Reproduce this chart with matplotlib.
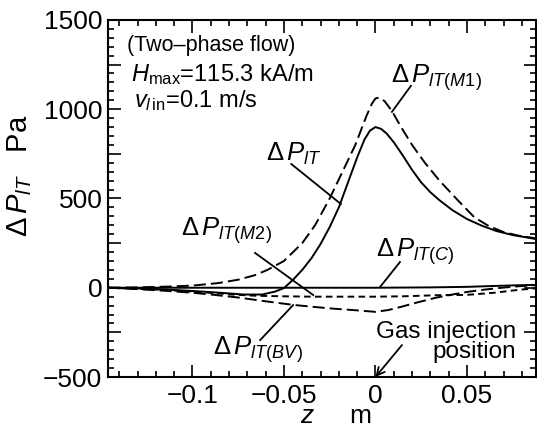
import matplotlib
matplotlib.use("Agg")
import matplotlib.pyplot as plt
from matplotlib.ticker import MultipleLocator, FuncFormatter

plt.rcParams['font.family'] = ['Liberation Sans', 'DejaVu Sans']
plt.rcParams['mathtext.fontset'] = 'custom'
plt.rcParams['mathtext.rm'] = 'Liberation Sans'
plt.rcParams['mathtext.it'] = 'Liberation Sans:italic'
plt.rcParams['mathtext.bf'] = 'Liberation Sans:bold'
plt.rcParams['axes.unicode_minus'] = True

# ---- data (z in m, pressure in Pa) ----
z_total = [-0.146, -0.13, -0.115, -0.1, -0.085, -0.072, -0.062, -0.055, -0.05, -0.045, -0.04,
           -0.035, -0.03, -0.025, -0.02, -0.015, -0.01, -0.006, -0.003, 0.0, 0.003, 0.006,
           0.01, 0.015, 0.02, 0.025, 0.03, 0.035, 0.042, 0.05, 0.058, 0.066, 0.075, 0.082, 0.088]
p_total = [0, -4, -10, -18, -28, -38, -38, -22, -2, 45, 100,
           165, 245, 340, 450, 590, 730, 830, 880, 900, 890, 865,
           815, 740, 660, 590, 535, 490, 435, 385, 348, 318, 295, 283, 272]

z_m1 = [-0.146, -0.13, -0.115, -0.1, -0.086, -0.075, -0.066, -0.059, -0.05, -0.04, -0.033,
        -0.025, -0.018, -0.011, -0.005, -0.002, 0.0, 0.002, 0.005,
        0.009, 0.014, 0.02, 0.027, 0.035, 0.045, 0.054, 0.062, 0.07, 0.078, 0.088]
p_m1 = [0, 2, 6, 12, 26, 45, 70, 100, 150, 250, 350,
        500, 650, 800, 960, 1030, 1060, 1065, 1045,
        990, 900, 800, 700, 600, 490, 395, 345, 312, 292, 276]

z_bv = [-0.146, -0.13, -0.115, -0.1, -0.088, -0.074, -0.06, -0.045, -0.033, -0.022, -0.011,
        0.0, 0.007, 0.014, 0.023, 0.033, 0.042, 0.051, 0.06, 0.069, 0.078, 0.088]
p_bv = [0, -8, -17, -28, -40, -56, -76, -96, -108, -118, -126,
        -135, -125, -107, -82, -56, -38, -22, -10, 0, 8, 15]

z_m2 = [-0.146, -0.13, -0.115, -0.1, -0.088, -0.077, -0.065, -0.05, -0.034, -0.015, 0.0,
        0.015, 0.033, 0.05, 0.065, 0.078, 0.088]
p_m2 = [0, -6, -12, -22, -30, -39, -45, -48, -50, -50, -50,
        -48, -42, -40, -28, -12, -3]

z_c = [-0.146, -0.1, -0.05, 0.0, 0.03, 0.05, 0.065, 0.078, 0.088]
p_c = [0, 0, 0, 0, 2, 5, 10, 14, 16]

xticks = [-0.1, -0.05, 0, 0.05]
xtick_labels = ['\u22120.1', '\u22120.05', '0', '0.05']
yticks = [-500, 0, 500, 1000, 1500]

fig = plt.figure(figsize=(5.37, 4.33), dpi=100)
ax = fig.add_axes([0.201, 0.1293, 0.797, 0.8247])

lw = 1.4
ax.plot(z_total, p_total, color='black', lw=lw)
ax.plot(z_m1, p_m1, color='black', lw=lw, dashes=(6.2, 2.6))
ax.plot(z_bv, p_bv, color='black', lw=lw, dashes=(6.2, 2.6))
ax.plot(z_m2, p_m2, color='black', lw=lw, dashes=(3.4, 2.2))
ax.plot(z_c, p_c, color='black', lw=lw)

ax.set_xlim(-0.1462, 0.0877)
ax.set_ylim(-500, 1500)

ax.set_xticks(xticks)
ax.set_xticklabels(xtick_labels)
ax.xaxis.set_minor_locator(MultipleLocator(0.01))
ax.yaxis.set_major_locator(MultipleLocator(250))
ax.yaxis.set_major_formatter(FuncFormatter(
    lambda v, p: (f'{int(round(v))}'.replace('-', '\u2212') if round(v) in yticks else '')))
ax.yaxis.set_minor_locator(MultipleLocator(50))

ax.tick_params(which='both', direction='in', top=True, right=True, width=1.2, labelsize=19)
ax.tick_params(axis='x', pad=5)
ax.tick_params(axis='y', pad=4)
ax.tick_params(which='major', length=9)
ax.tick_params(which='minor', length=4)
for s in ax.spines.values():
    s.set_linewidth(1.5)

# text block
ax.text(0.044, 0.927, '(Two\u2013phase flow)', transform=ax.transAxes, fontsize=15.5, va='center', ha='left')
ax.text(0.055, 0.846, r'$\mathit{H}_{\mathrm{max}}$=115.3 kA/m', transform=ax.transAxes, fontsize=17, va='center', ha='left')
ax.text(0.062, 0.773, r'$\mathit{v}_{\mathit{l}\,\mathrm{in}}$=0.1 m/s', transform=ax.transAxes, fontsize=17, va='center', ha='left')

lfs = 18.5
def lab(s):
    return r'$\Delta\,\mathit{P}_{\mathit{' + s + r'}}$'

ax.text(0.0335, 1175, lab('lT(M1)'), fontsize=lfs, ha='center', va='center')
ax.plot([0.0194, 0.009], [1131, 985], color='black', lw=1.3)

ax.text(-0.0445, 750, lab('lT'), fontsize=lfs, ha='center', va='center')
ax.plot([-0.046, -0.0189], [693, 469], color='black', lw=1.3)

ax.text(-0.0817, 320, lab('lT(M2)'), fontsize=lfs, ha='center', va='center')
ax.plot([-0.0658, -0.034], [195, -41], color='black', lw=1.3)

ax.text(0.0216, 200, lab('lT(C)'), fontsize=lfs, ha='center', va='center')
ax.plot([0.0134, 0.0025], [144, 4], color='black', lw=1.3)

ax.text(-0.0642, -345, lab('lT(BV)'), fontsize=lfs, ha='center', va='center')
ax.plot([-0.063, -0.045], [-293, -97], color='black', lw=1.3)

ax.text(0.0770, -304, 'Gas injection\nposition', fontsize=17.5, ha='right', va='center',
        multialignment='right', linespacing=0.9)
ax.annotate('', xy=(0.0, -500), xytext=(0.0145, -321),
            arrowprops=dict(arrowstyle='->', color='black', lw=1.3, mutation_scale=14,
                            shrinkA=0, shrinkB=0))

fig.text(0.037, 0.594, r'$\Delta\,\mathit{P}_{\mathit{lT}}$   Pa', rotation=90, fontsize=21,
         ha='center', va='center')
fig.text(0.626, 0.039, r'$\mathit{z}$     m', fontsize=19, ha='center', va='center')

fig.savefig('out.png', dpi=100)
